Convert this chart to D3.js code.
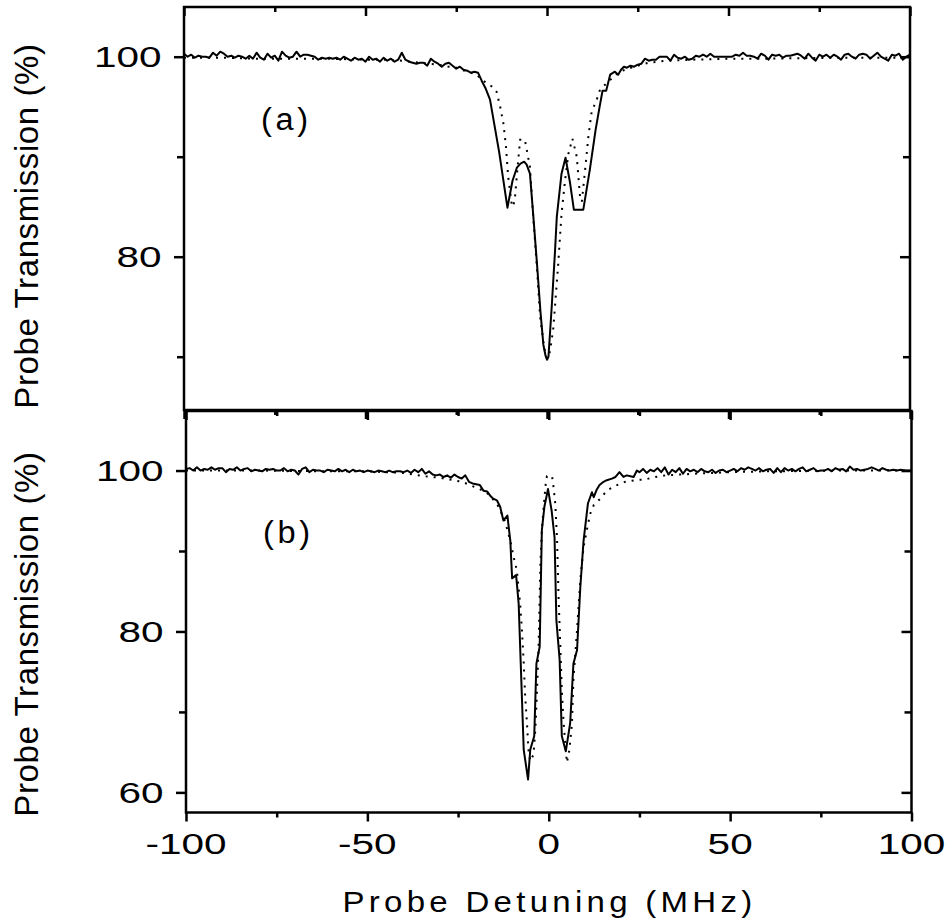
<!DOCTYPE html>
<html>
<head>
<meta charset="utf-8">
<script src="https://cdn.jsdelivr.net/npm/d3@7"></script>
<style>
  body { margin: 0; background: #fff; }
  text { font-family: "Liberation Sans", Arial, sans-serif; fill: #000; }
</style>
</head>
<body>
<svg id="chart" width="945" height="924"></svg>
<script>
// panel (a): measured trace [detuning MHz, transmission %]
var aMeasured = [[-100,100.3],[-99,100.0],[-98,100.2],[-97,99.9],[-96,100.1],[-95,100.0],[-94,100.0],[-93,99.9],[-92,100.4],[-91,100.1],[-90,100.5],[-89,100.3],[-88,100.0],[-87,100.1],[-86,99.9],[-85,100.1],[-84,100.0],[-83,99.8],[-82,100.1],[-81,99.8],[-80,100.4],[-79,99.9],[-78,99.7],[-77,100.3],[-76,99.9],[-75,100.1],[-74,99.6],[-73,100.5],[-72,100.1],[-71,99.9],[-70,100.0],[-69,100.5],[-68,100.0],[-67,100.2],[-66,100.2],[-65,100.1],[-64,100.0],[-63,99.7],[-62,99.9],[-61,99.8],[-60,99.9],[-59,99.8],[-58,99.9],[-57,99.7],[-56,100.0],[-55,99.8],[-54,99.6],[-53,99.9],[-52,99.7],[-51,99.8],[-50,99.5],[-49,100.0],[-48,99.7],[-47,99.8],[-46,99.5],[-45,99.9],[-44,99.6],[-43,99.8],[-42,99.5],[-41,99.7],[-40,100.4],[-39,99.7],[-38,99.5],[-37,99.4],[-36,99.3],[-35,99.4],[-34,99.4],[-33,99.1],[-32,99.8],[-31,99.5],[-30,99.3],[-29,99.0],[-28,99.3],[-27,99.4],[-26,99.1],[-25,98.8],[-24,99.0],[-23,98.7],[-22,98.6],[-21,98.4],[-20,98.5],[-19,98.4],[-18,97.6],[-17,96.9],[-15.7,95.7],[-13.2,90.5],[-10.9,84.9],[-9.5,87.6],[-8.3,88.9],[-7.3,89.3],[-6.3,89.5],[-5.6,89.2],[-4.7,88.3],[-3.8,84.2],[-2.8,79.5],[-1.8,74.5],[-1.0,71.2],[-0.4,70.1],[0.0,69.7],[0.4,70.0],[1.3,75.0],[2.2,80.5],[2.7,84.0],[4.0,88.3],[5.1,89.9],[6.3,87.5],[7.4,84.7],[10.0,84.7],[11.8,88.7],[13.4,92.7],[14.5,95.0],[15.3,96.6],[16.3,96.6],[17.4,98.2],[18.7,98.5],[19.6,98.2],[20.4,98.7],[21.2,99.0],[22,98.9],[23,99.1],[24,99.0],[25,99.2],[26,99.3],[27,99.8],[28,99.6],[29,99.7],[30,99.7],[31,100.0],[32,100.0],[33,100.0],[34,99.6],[35,100.2],[36,99.9],[37,99.8],[38,100.0],[39,99.7],[40,99.8],[41,100.1],[42,100.0],[43,100.2],[44,100.0],[45,100.3],[46,100.0],[47,100.0],[48,100.0],[49,100.0],[50,100.0],[51,100.0],[52,100.2],[53,100.1],[54,100.4],[55,100.1],[56,100.1],[57,100.0],[58,99.8],[59,100.3],[60,100.1],[61,99.7],[62,100.2],[63,100.1],[64,100.2],[65,99.9],[66,100.1],[67,100.1],[68,100.2],[69,100.3],[70,100.1],[71,99.8],[72,100.3],[73,99.9],[74,99.6],[75,100.2],[76,100.0],[77,100.2],[78,99.9],[79,100.2],[80,100.0],[81,99.7],[82,100.2],[83,100.3],[84,100.0],[85,99.8],[86,100.2],[87,100.3],[88,100.2],[89,99.8],[90,100.1],[91,100.4],[92,100.0],[93,99.8],[94,99.6],[95,100.2],[96,100.1],[97,100.3],[98,99.7],[99,100.0],[100,100.2]];

// panel (a): calculated trace
var aCalculated = [[-100,99.9],[-90,99.9],[-80,99.8],[-70,99.8],[-60,99.8],[-50,99.7],[-45,99.7],[-40,99.6],[-35,99.4],[-30,99.2],[-27,99.0],[-25,98.9],[-22,98.5],[-20,98.3],[-18,97.8],[-16.6,97.3],[-15,97.0],[-13.9,96.5],[-12.9,95.0],[-12.0,93.3],[-11.3,91.0],[-10.7,88.0],[-9.7,85.2],[-9.3,85.0],[-8.8,86.0],[-8.1,89.0],[-7.4,91.7],[-6.1,91.7],[-4.7,89.0],[-3.8,84.0],[-2.8,79.0],[-1.9,74.0],[-1.0,71.5],[-0.5,70.4],[0,69.8],[0.8,70.5],[1.7,72.7],[3.1,79.3],[4.0,84.3],[5.0,87.7],[5.9,90.3],[7.0,91.8],[8.2,90.0],[9.1,86.0],[9.6,85.5],[10.5,88.7],[11.4,92.0],[12.3,94.5],[13.7,95.7],[14.6,96.7],[16,97.2],[17.8,97.8],[20,98.5],[24,99.0],[28,99.4],[33,99.6],[40,99.7],[50,99.8],[60,99.8],[80,99.9],[100,99.9]];

// panel (b): measured trace
var bMeasured = [[-100,100.2],[-99,100.3],[-98,100.0],[-97,100.4],[-96,100.0],[-95,100.2],[-94,100.1],[-93,100.4],[-92,100.1],[-91,100.3],[-90,100.3],[-89,99.8],[-88,100.2],[-87,100.1],[-86,100.4],[-85,100.0],[-84,100.2],[-83,100.3],[-82,99.9],[-81,100.1],[-80,100.0],[-79,99.9],[-78,100.2],[-77,100.1],[-76,100.2],[-75,100.0],[-74,100.0],[-73,100.3],[-72,99.9],[-71,100.1],[-70,100.0],[-69,99.5],[-68,100.2],[-67,100.4],[-66,99.8],[-65,100.1],[-64,100.0],[-63,100.0],[-62,99.8],[-61,100.1],[-60,100.0],[-59,99.9],[-58,100.2],[-57,99.9],[-56,100.1],[-55,99.8],[-54,100.1],[-53,99.9],[-52,100.0],[-51,99.8],[-50,100.0],[-49,99.9],[-48,99.8],[-47,100.0],[-46,99.9],[-45,99.8],[-44,100.0],[-43,99.8],[-42,99.9],[-41,99.9],[-40,99.8],[-39,100.0],[-38,99.7],[-37,100.1],[-36,99.8],[-35,100.2],[-34,99.6],[-33,99.9],[-32,99.5],[-31,99.4],[-30,99.5],[-29,99.2],[-28,99.4],[-27,99.1],[-26,99.5],[-25,99.2],[-24,99.0],[-23,99.4],[-22,98.6],[-21,98.4],[-20,98.3],[-19,98.2],[-18,97.5],[-17,97.4],[-16,96.8],[-15.3,96.5],[-14.3,96.3],[-13.4,95.5],[-12.5,93.8],[-11.4,94.4],[-10.6,91.3],[-10.1,86.6],[-9.0,87.0],[-8.3,83.5],[-6.9,65.3],[-5.7,61.6],[-5.1,65.3],[-4.0,67.0],[-3.4,76.0],[-2.5,78.1],[-1.9,92.6],[-1.2,95.5],[-0.2,97.7],[0.8,95.0],[1.6,91.7],[2.1,81.4],[3.0,76.5],[3.6,67.0],[4.7,65.1],[5.9,68.6],[6.8,76.0],[7.8,77.7],[8.7,85.5],[9.6,91.3],[10.8,95.9],[11.9,97.3],[12.4,96.7],[13.2,97.6],[14,98.2],[15.1,98.6],[16,98.8],[17.4,99.0],[18.4,99.2],[19.5,99.8],[20.6,99.2],[21.5,99.4],[22.5,99.3],[23.4,99.2],[24.3,100.0],[25,99.8],[26,100.2],[27,99.7],[28,100.1],[29,99.9],[30,100.3],[31,99.8],[32,100.4],[33,99.5],[34,100.1],[35,99.8],[36,100.3],[37,99.6],[38,100.2],[39,99.9],[40,100.1],[41,99.8],[42,100.2],[43,99.9],[44,99.8],[45,100.1],[46,99.7],[47,100.0],[48,100.1],[49,99.8],[50,100.0],[51,100.2],[52,99.9],[53,100.3],[54,100.1],[55,100.4],[56,100.2],[57,100.0],[58,100.3],[59,99.9],[60,100.1],[61,100.2],[62,99.7],[63,100.3],[64,99.8],[65,100.3],[66,100.0],[67,100.2],[68,99.9],[69,100.2],[70,100.4],[71,99.9],[72,100.1],[73,100.3],[74,99.9],[75,100.0],[76,100.0],[77,100.2],[78,99.9],[79,100.3],[80,100.1],[81,100.2],[82,99.9],[83,100.5],[84,100.1],[85,100.2],[86,100.0],[87,100.1],[88,100.2],[89,100.4],[90,100.2],[91,100.0],[92,100.3],[93,100.1],[94,100.0],[95,100.1],[96,100.0],[97,100.1],[98,100.0],[99,100.0],[100,100.0]];

// panel (b): calculated trace
var bCalculated = [[-100,100.0],[-80,100.0],[-60,99.9],[-50,99.9],[-40,99.7],[-34.5,99.3],[-30,99.1],[-26.2,98.8],[-23.9,98.6],[-21.2,98.1],[-19,97.7],[-17,97.2],[-15.5,96.5],[-13.8,95.5],[-12,93.6],[-10.6,91.3],[-9.7,89.3],[-8.8,87.6],[-7.9,83.5],[-7.4,80.2],[-6.9,76.1],[-6.5,71.9],[-6.0,68.6],[-5.6,65.3],[-5.1,63.9],[-4.2,64.7],[-3.7,67.8],[-3.3,71.9],[-2.8,78.1],[-2.5,84.3],[-2.3,88.4],[-1.9,92.6],[-1.4,95.5],[-0.8,98.5],[-0.5,99.3],[0.9,99.3],[1.3,98.0],[1.8,95.9],[2.3,91.3],[2.7,84.3],[3.2,78.1],[3.6,72.7],[4.1,68.6],[4.7,65.3],[5.0,63.7],[5.7,65.3],[6.4,68.6],[6.8,74.0],[7.8,80.2],[8.7,86.4],[9.6,90.5],[10.5,92.6],[11.4,94.6],[12.4,95.7],[14.2,96.5],[16.0,97.5],[18.3,98.1],[21.1,98.6],[23.8,98.8],[26.6,98.9],[29.4,99.2],[32.1,99.4],[40,99.6],[50,99.8],[60,99.9],[80,100.0],[100,100.0]];

var xMajor = [-100, -50, 0, 50, 100];
var xMinor = [-75, -25, 25, 75];
var aYMajor = [80, 100];
var aYMinor = [70, 90];
var bYMajor = [60, 80, 100];
var bYMinor = [70, 90];

var svg = d3.select("#chart");

// tick numbers in the figure are drawn wider than normal
function label(parent, x, y, str, anchor, stretch, spacing, size) {
  return parent.append("text")
    .attr("transform", "translate(" + x + "," + y + ") scale(" + stretch + ",1)")
    .attr("text-anchor", anchor)
    .attr("font-size", size)
    .attr("letter-spacing", spacing)
    .text(str);
}

function drawPanel(p) {
  var x = d3.scaleLinear().domain([-100, 100]).range([p.left, p.right]);
  var y = d3.scaleLinear().domain(p.yDomain).range([p.bottom, p.top]);
  var g = svg.append("g");

  var line = d3.line()
    .x(function(d) { return x(d[0]); })
    .y(function(d) { return y(d[1]); });

  g.append("path")
    .datum(p.calc)
    .attr("fill", "none")
    .attr("stroke", "#000")
    .attr("stroke-width", 2)
    .attr("stroke-dasharray", "2,6")
    .attr("d", line);

  g.append("path")
    .datum(p.meas)
    .attr("fill", "none")
    .attr("stroke", "#000")
    .attr("stroke-width", 2)
    .attr("stroke-linejoin", "round")
    .attr("d", line);

  function ticks(a) {
    a.select(".domain").remove();
    a.selectAll("text").remove();
    a.selectAll("line").attr("stroke", "#000").attr("stroke-width", 2.5);
  }

  // left: outward ticks
  g.append("g").attr("transform", "translate(" + p.left + ",0)")
    .call(d3.axisLeft(y).tickValues(p.yMajor).tickSize(10)).call(ticks);
  g.append("g").attr("transform", "translate(" + p.left + ",0)")
    .call(d3.axisLeft(y).tickValues(p.yMinor).tickSize(7)).call(ticks);

  // right: inward ticks
  g.append("g").attr("transform", "translate(" + p.right + ",0)")
    .call(d3.axisLeft(y).tickValues(p.yMajor).tickSize(10)).call(ticks);
  g.append("g").attr("transform", "translate(" + p.right + ",0)")
    .call(d3.axisLeft(y).tickValues(p.yMinor).tickSize(7)).call(ticks);

  // top: inward ticks
  g.append("g").attr("transform", "translate(0," + p.top + ")")
    .call(d3.axisBottom(x).tickValues(xMajor).tickSize(9)).call(ticks);
  g.append("g").attr("transform", "translate(0," + p.top + ")")
    .call(d3.axisBottom(x).tickValues(xMinor).tickSize(5)).call(ticks);

  // bottom: outward ticks
  g.append("g").attr("transform", "translate(0," + p.bottom + ")")
    .call(d3.axisBottom(x).tickValues(xMajor).tickSize(9)).call(ticks);
  g.append("g").attr("transform", "translate(0," + p.bottom + ")")
    .call(d3.axisBottom(x).tickValues(xMinor).tickSize(5)).call(ticks);

  // frame
  g.append("rect")
    .attr("x", p.left).attr("y", p.top)
    .attr("width", p.right - p.left).attr("height", p.bottom - p.top)
    .attr("fill", "none").attr("stroke", "#000").attr("stroke-width", 2.5);

  // y tick labels
  p.yMajor.forEach(function(v) {
    label(g, p.left - 22.5, y(v) + 10.7, String(v), "end", 1.35, 0, 30);
  });

  // x tick labels
  if (p.xLabels) {
    xMajor.forEach(function(v) {
      label(g, x(v), p.bottom + 41, String(v), "middle", 1.35, 0, 30);
    });
  }

  label(g, p.tagX, p.tagY, p.tag, "start", 1.05, 3.5, 31);

  g.append("text")
    .attr("transform", "translate(38," + p.titleY + ") rotate(-90)")
    .attr("text-anchor", "middle")
    .attr("font-size", 33).attr("letter-spacing", 0.6)
    .text("Probe Transmission (%)");
}

drawPanel({
  left: 184, right: 910, top: 7, bottom: 410,
  yDomain: [64.67, 104.97],
  yMajor: aYMajor, yMinor: aYMinor,
  meas: aMeasured, calc: aCalculated,
  xLabels: false,
  tag: "(a)", tagX: 261, tagY: 130, titleY: 226
});

drawPanel({
  left: 186, right: 911.5, top: 411, bottom: 812.5,
  yDomain: [57.5, 107.4],
  yMajor: bYMajor, yMinor: bYMinor,
  meas: bMeasured, calc: bCalculated,
  xLabels: true,
  tag: "(b)", tagX: 263, tagY: 543, titleY: 634
});

label(svg, 549.5, 912, "Probe Detuning (MHz)", "middle", 1.1, 3.9, 30);
</script>
</body>
</html>
